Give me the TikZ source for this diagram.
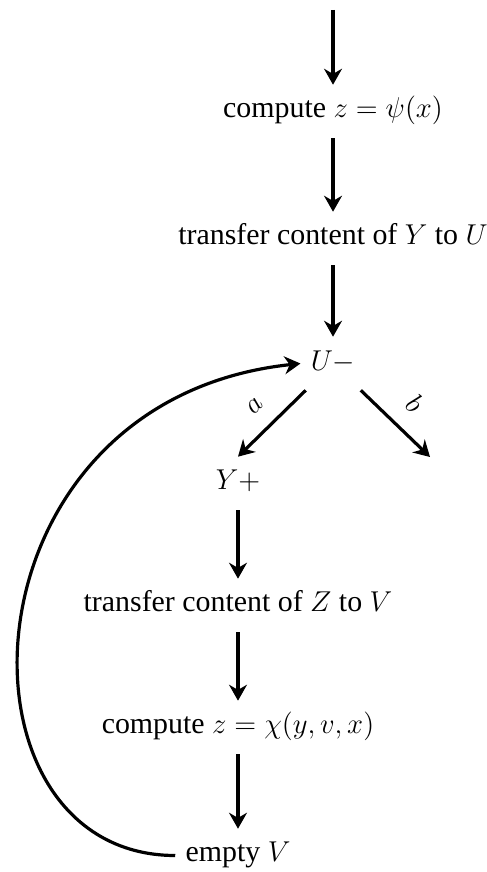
\documentclass[tikz,border=0pt]{standalone}
\usepackage{fontspec}
\setmainfont{Liberation Serif}
\usetikzlibrary{arrows.meta}

\begin{document}
\begin{tikzpicture}[
  >={Stealth[length=8pt,width=9pt]},
  stage/.style={inner sep=5pt,text height=11.5pt,text depth=5pt,font=\fontsize{15}{18}\selectfont},
  flow/.style={->,line width=1.6pt},
  lbl/.style={font=\fontsize{15}{18}\selectfont,midway,sloped,above=5pt},
]
  \useasboundingbox (0,0) rectangle (8.573,-15.381);
  \coordinate (entry) at (5.874,-0.176);
  \node[stage] (psi) at (5.874,-1.967) {compute $z=\psi(x)$};
  \node[stage] (yu) at (5.874,-4.207) {transfer content of $Y$ to $U$};
  \node[stage] (um) at (5.874,-6.412) {$U-$};
  \node[stage] (yp) at (4.198,-8.528) {$Y+$};
  \node[stage] (zv) at (4.198,-10.680) {transfer content of $Z$ to $V$};
  \node[stage] (chi) at (4.198,-12.832) {compute $z=\chi(y,v,x)$};
  \node[stage] (emp) at (4.198,-15.090) {empty $V$};
  \coordinate (bout) at (7.585,-8.061);
  \foreach \a/\b in {entry/psi,psi/yu,yu/um,yp/zv,zv/chi,chi/emp} \draw[flow] (\a) -- (\b);
  \draw[flow] (um) -- node[lbl] {$a$} (yp.north);
  \draw[flow] (um) -- node[lbl] {$b$} (bout);
  % loop back from the bottom
  \draw[flow] (emp.west) .. controls +(-4.1,0) and +(-6.1,-0.65) .. (um.west);
\end{tikzpicture}
\end{document}
